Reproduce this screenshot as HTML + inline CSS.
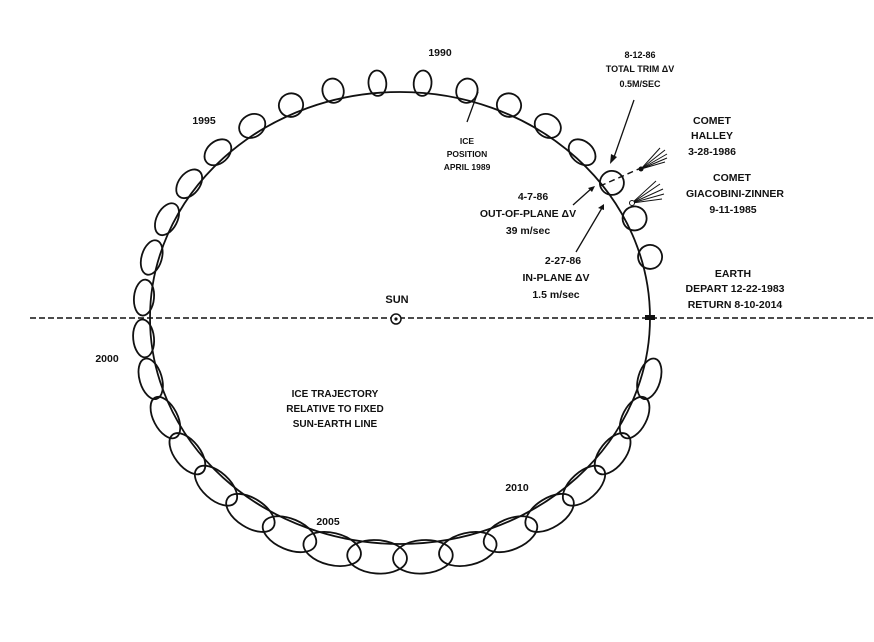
<!DOCTYPE html>
<html><head><meta charset="utf-8"><style>
html,body{margin:0;padding:0;background:#fff;}
svg{display:block}
text{font-family:"Liberation Sans",sans-serif;font-weight:bold;font-size:10.5px;fill:#111;text-anchor:middle}
</style></head><body>
<svg id="s" width="874" height="642" viewBox="0 0 874 642" xmlns="http://www.w3.org/2000/svg">
<line x1="30" y1="318" x2="874" y2="318" stroke="#111" stroke-width="1.6" stroke-dasharray="6,3"/>
<circle cx="396" cy="319" r="5" fill="#fff" stroke="#111" stroke-width="1.5"/>
<circle cx="396" cy="319" r="1.6" fill="#111"/>
<ellipse cx="400" cy="318" rx="250" ry="226" fill="none" stroke="#111" stroke-width="1.8"/>
<g id="loops" fill="none" stroke="#111" stroke-width="1.8"></g>
<rect x="645" y="315" width="10" height="5" fill="#111"/>
<line x1="478" y1="92" x2="467" y2="122" stroke="#111" stroke-width="1.3"/>
<line x1="634" y1="100" x2="613" y2="160" stroke="#111" stroke-width="1.3"/>
<polygon points="610,164 611,154 617,157" fill="#111"/>
<line x1="573" y1="205" x2="592" y2="188" stroke="#111" stroke-width="1.3"/>
<polygon points="595,186 588,188 592,192" fill="#111"/>
<line x1="576" y1="252" x2="602" y2="208" stroke="#111" stroke-width="1.3"/>
<polygon points="604,204 598,208 604,210" fill="#111"/>
<line x1="600" y1="186" x2="641" y2="168" stroke="#111" stroke-width="1.4" stroke-dasharray="6,4"/>
<g stroke="#111" stroke-width="1">
<line x1="641" y1="169" x2="665" y2="150"/><line x1="641" y1="169" x2="667" y2="154"/><line x1="641" y1="169" x2="667" y2="158"/><line x1="641" y1="169" x2="665" y2="162"/><line x1="641" y1="169" x2="660" y2="148"/>
<line x1="632" y1="203" x2="660" y2="184"/><line x1="632" y1="203" x2="663" y2="189"/><line x1="632" y1="203" x2="664" y2="194"/><line x1="632" y1="203" x2="662" y2="199"/><line x1="632" y1="203" x2="656" y2="181"/>
</g>
<circle cx="641" cy="169" r="2.5" fill="#111"/>
<circle cx="632" cy="203" r="2.5" fill="#fff" stroke="#111"/>
<text x="440" y="56">1990</text>
<text x="204" y="124">1995</text>
<text x="107" y="362">2000</text>
<text x="328" y="525">2005</text>
<text x="517" y="491">2010</text>
<text x="397" y="303" style="font-size:11px">SUN</text>
<text x="467" y="144" style="font-size:8.5px">ICE</text>
<text x="467" y="157" style="font-size:8.5px">POSITION</text>
<text x="467" y="170" style="font-size:8.5px">APRIL 1989</text>
<text x="640" y="58" style="font-size:9px">8-12-86</text>
<text x="640" y="72" style="font-size:9px">TOTAL TRIM ΔV</text>
<text x="640" y="87" style="font-size:9px">0.5M/SEC</text>
<text x="712" y="124">COMET</text>
<text x="712" y="139">HALLEY</text>
<text x="712" y="155">3-28-1986</text>
<text x="732" y="181">COMET</text>
<text x="735" y="197">GIACOBINI-ZINNER</text>
<text x="733" y="213">9-11-1985</text>
<text x="533" y="200">4-7-86</text>
<text x="528" y="217">OUT-OF-PLANE ΔV</text>
<text x="528" y="234">39 m/sec</text>
<text x="563" y="264">2-27-86</text>
<text x="556" y="281">IN-PLANE ΔV</text>
<text x="556" y="298">1.5 m/sec</text>
<text x="733" y="277">EARTH</text>
<text x="735" y="292">DEPART 12-22-1983</text>
<text x="735" y="308">RETURN 8-10-2014</text>
<text x="335" y="397" style="font-size:10px">ICE TRAJECTORY</text>
<text x="335" y="412" style="font-size:10px">RELATIVE TO FIXED</text>
<text x="335" y="427" style="font-size:10px">SUN-EARTH LINE</text>
</svg>
<script>
(function(){
var cx=400,cy=318,rx=250,ry=226,g=document.getElementById("loops"),html="";
for(var d=15; d<=345; d+=10){
 var th=d*Math.PI/180;
 var low=Math.max(0,-Math.sin(th));
 var s=Math.abs(Math.cos(th));
 var h=26-6*s+8*low;
 var w=16+20*s*(1-low)+44*low;
 if(Math.cos(th)>0.8 && Math.sin(th)>0){w=24;h=24;}
 var bx=cx+rx*Math.cos(th), by=cy-ry*Math.sin(th);
 var nx=Math.cos(th)/rx, ny=-Math.sin(th)/ry, nl=Math.hypot(nx,ny); nx/=nl; ny/=nl;
 var off=h/2-3;
 var ex=bx+nx*off, ey=by+ny*off;
 var ang=Math.atan2(ny,nx)*180/Math.PI;
 html+='<ellipse cx="'+ex.toFixed(1)+'" cy="'+ey.toFixed(1)+'" rx="'+(h/2).toFixed(1)+'" ry="'+(w/2).toFixed(1)+'" transform="rotate('+ang.toFixed(1)+' '+ex.toFixed(1)+' '+ey.toFixed(1)+')"/>';
}
g.innerHTML=html;
})();
</script>
</body></html>
